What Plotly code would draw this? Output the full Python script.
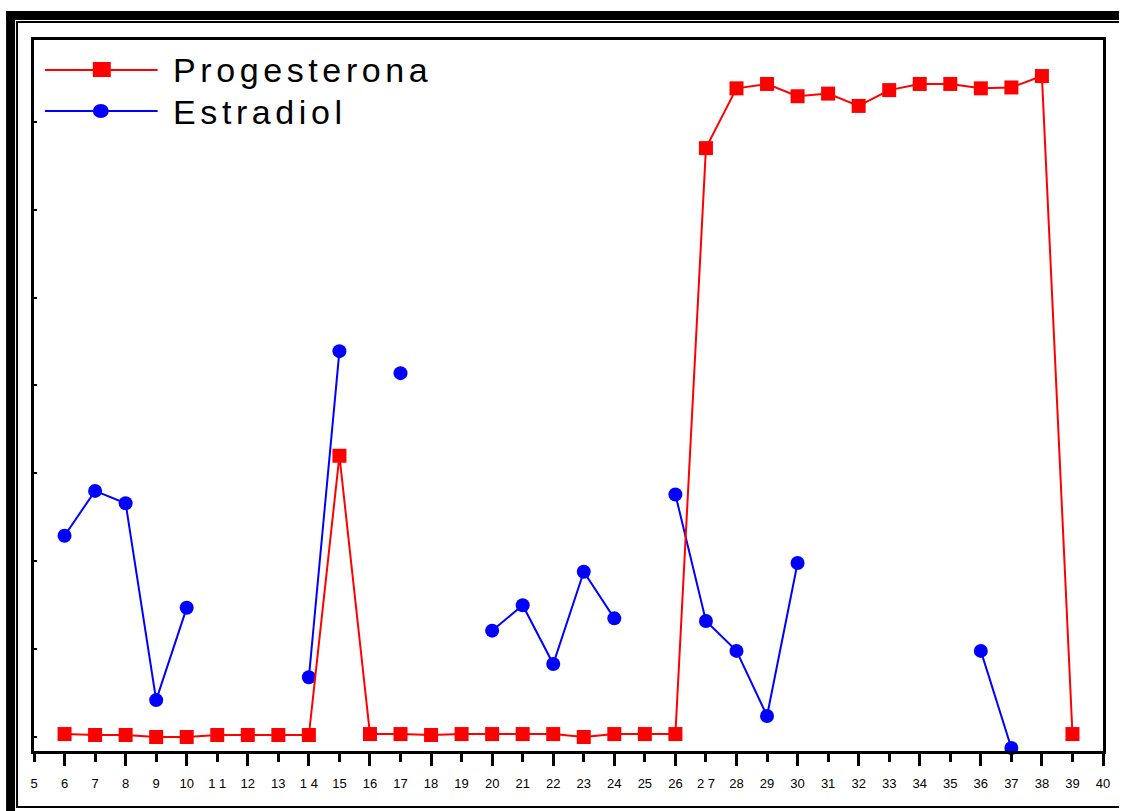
import plotly.graph_objects as go

# Sampling days
days = list(range(6, 40))

# Progesterone level per day (days 6..39)
progesterona = [0.34, 0.23, 0.23, 0.0, 0.0, 0.23, 0.23, 0.23, 0.23, 32.0,
                0.34, 0.34, 0.23, 0.34, 0.34, 0.34, 0.34, 0.0, 0.34, 0.34,
                0.34, 67.0, 73.8, 74.3, 72.9, 73.2, 71.8, 73.6, 74.3, 74.3,
                73.8, 73.9, 75.2, 0.34]

# Estradiol level per day (None = not measured)
estradiol = [22.9, 28.0, 26.6, 4.2, 14.7, None, None, None, 6.8, 43.9,
             None, 41.4, None, None, 12.1, 15.0, 8.3, 18.8, 13.5, None,
             27.6, 13.2, 9.8, 2.4, 19.8, None, None, None, None, None,
             9.8, -1.25, None, None]

# X axis tick labels
tick_values = list(range(5, 41))
tick_labels = [str(v) for v in tick_values]
tick_labels[tick_values.index(11)] = "1 1"
tick_labels[tick_values.index(14)] = "1 4"
tick_labels[tick_values.index(27)] = "2 7"
long_ticks = [v for v in tick_values if v % 2 == 0]

RED = "#FF0000"
BLUE = "#0000FF"

W, H = 1122, 811
ML, MR, MT, MB = 34, 16, 40, 60
PW, PH = W - ML - MR, H - MT - MB


def px(x):
    """Pixel column -> paper x."""
    return (x - ML) / PW


def py(y):
    """Pixel row -> paper y."""
    return (H - MB - y) / PH


fig = go.Figure()

fig.add_trace(go.Scatter(
    x=days, y=estradiol, mode="lines+markers", name="Estradiol",
    line=dict(color=BLUE, width=2),
    marker=dict(symbol="circle", size=14, color=BLUE),
    connectgaps=False, cliponaxis=False, showlegend=False,
))
fig.add_trace(go.Scatter(
    x=days, y=progesterona, mode="lines+markers", name="Progesterona",
    line=dict(color=RED, width=2),
    marker=dict(symbol="square", size=14, color=RED),
    cliponaxis=False, showlegend=False,
))
# carrier for the overlaid axis that draws the long even ticks
fig.add_trace(go.Scatter(x=[None], y=[None], xaxis="x2", showlegend=False,
                         hoverinfo="skip", mode="markers"))

shapes = []


def rect(x0, y0, x1, y1, color="black"):
    shapes.append(dict(type="rect", xref="paper", yref="paper",
                       x0=px(x0), x1=px(x1), y0=py(y0), y1=py(y1),
                       fillcolor=color, line=dict(width=0), layer="above"))


# double page frame
rect(6, 11, 15, 811)
rect(6, 11, 1122, 20)
rect(16, 21, 18, 808)
rect(16, 21, 1122, 23)
rect(16, 806, 1122, 808)

# legend samples
shapes.append(dict(type="line", xref="paper", yref="paper",
                   x0=px(45), x1=px(158), y0=py(70), y1=py(70),
                   line=dict(color=RED, width=2)))
rect(93, 62, 111, 77, RED)
shapes.append(dict(type="line", xref="paper", yref="paper",
                   x0=px(45), x1=px(158), y0=py(111), y1=py(111),
                   line=dict(color=BLUE, width=2)))
shapes.append(dict(type="circle", xref="paper", yref="paper",
                   x0=px(93), x1=px(109), y0=py(104), y1=py(118),
                   fillcolor=BLUE, line=dict(width=0)))

legend_font = dict(family="Liberation Sans, Arial, sans-serif", size=34,
                   color="black")
annotations = [
    dict(xref="paper", yref="paper", x=px(171), y=py(70), xanchor="left",
         yanchor="middle", showarrow=False, font=legend_font,
         text='<span style="letter-spacing:4.6px">Progesterona</span>'),
    dict(xref="paper", yref="paper", x=px(171), y=py(112), xanchor="left",
         yanchor="middle", showarrow=False, font=legend_font,
         text='<span style="letter-spacing:4.6px">Estradiol</span>'),
]

fig.update_layout(
    width=W, height=H,
    margin=dict(l=ML, r=MR, t=MT, b=MB, pad=0),
    paper_bgcolor="white", plot_bgcolor="white",
    showlegend=False,
    shapes=shapes, annotations=annotations,
    font=dict(family="Liberation Sans, Arial, sans-serif", color="black"),
    xaxis=dict(
        range=[5, 40], tickmode="array", tickvals=tick_values,
        ticktext=tick_labels, ticks="outside", ticklen=8, tickwidth=3,
        tickcolor="black", showline=True, linewidth=3, linecolor="black",
        mirror=True, showgrid=False, zeroline=False,
        tickfont=dict(size=13, color="black"), ticklabelstandoff=10,
    ),
    xaxis2=dict(
        range=[5, 40], overlaying="x", anchor="y", side="bottom",
        tickmode="array", tickvals=long_ticks, ticks="outside", ticklen=14,
        tickwidth=3, tickcolor="black", showticklabels=False,
        showline=False, showgrid=False, zeroline=False,
    ),
    yaxis=dict(
        range=[-1.59, 79.3], tickmode="array",
        tickvals=[0, 10, 20, 30, 40, 50, 60, 70], ticks="inside",
        ticklen=3, tickwidth=2, tickcolor="black", showticklabels=False,
        showline=True, linewidth=3, linecolor="black", mirror=True,
        showgrid=False, zeroline=False,
    ),
)

fig.write_html("out.html")
